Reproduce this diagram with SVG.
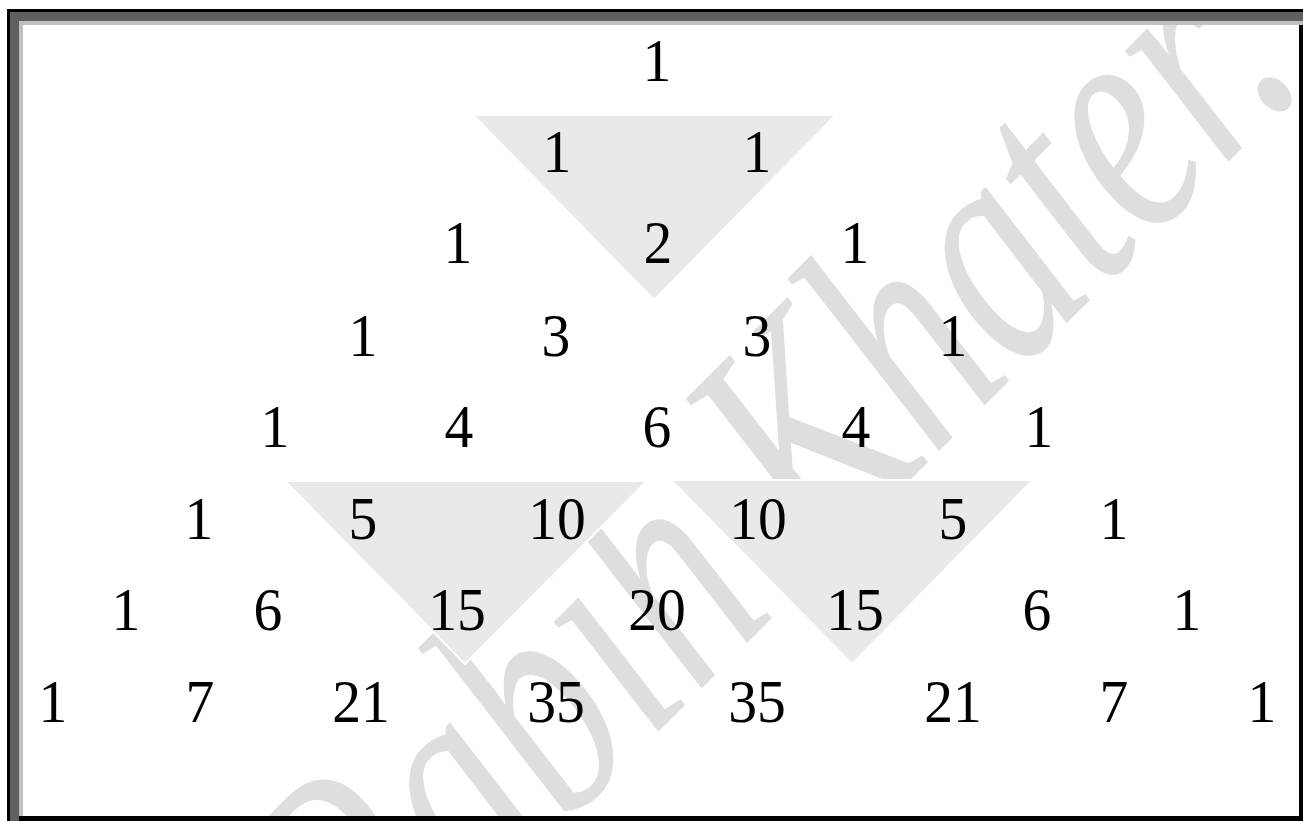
<svg xmlns="http://www.w3.org/2000/svg" width="1303" height="821" viewBox="0 0 1303 821">
<style>
.n{font-family:"Liberation Serif","Times New Roman",serif;font-size:62px;fill:#000;text-anchor:middle}
.tri{fill:#e9e9e9;stroke:#fff;stroke-width:2}
.wm{font-family:"Liberation Serif","Times New Roman",serif;font-style:italic;font-size:100px;fill:#dedede}
</style>
<defs>
<clipPath id="inner"><rect x="23" y="25" width="1276" height="791"/></clipPath>
</defs>
<g id="frame">
<rect x="7" y="9" width="1296" height="812" fill="#000"/>
<rect x="10" y="12" width="1293" height="9" fill="#606060"/>
<rect x="10" y="12" width="9" height="809" fill="#606060"/>
<rect x="19" y="21" width="1284" height="4" fill="#c0c0c0"/>
<rect x="19" y="21" width="4" height="795" fill="#c0c0c0"/>
<rect x="23" y="25" width="1276" height="791" fill="#fff"/>
</g>
<g id="watermark" clip-path="url(#inner)">
<text class="wm" transform="matrix(1.676 -1.676 2.333 2.333 379 1011)">Rabih Khater.</text>
</g>
<g id="triangles">
<polygon id="tri-top" class="tri" points="473,115 836,115 654,300"/>
<polygon id="tri-left" class="tri" points="285,481 647,481 465,664"/>
<polygon id="tri-right" class="tri" points="671,480 1033,480 852,664"/>
</g>
<g id="connectors"></g>
<g id="r1"><text class="n" transform="translate(657,81) scale(0.93,1)">1</text></g>
<g id="r2">
<text class="n" transform="translate(557,172) scale(0.93,1)">1</text>
<text class="n" transform="translate(757,172) scale(0.93,1)">1</text>
</g>
<g id="r3">
<text class="n" transform="translate(458,263) scale(0.93,1)">1</text>
<text class="n" transform="translate(658,263) scale(0.93,1)">2</text>
<text class="n" transform="translate(855,263) scale(0.93,1)">1</text>
</g>
<g id="r4">
<text class="n" transform="translate(363,355.5) scale(0.93,1)">1</text>
<text class="n" transform="translate(556,355.5) scale(0.93,1)">3</text>
<text class="n" transform="translate(757,355.5) scale(0.93,1)">3</text>
<text class="n" transform="translate(953,355.5) scale(0.93,1)">1</text>
</g>
<g id="r5">
<text class="n" transform="translate(275,447) scale(0.93,1)">1</text>
<text class="n" transform="translate(459,447) scale(0.93,1)">4</text>
<text class="n" transform="translate(657,447) scale(0.93,1)">6</text>
<text class="n" transform="translate(856,447) scale(0.93,1)">4</text>
<text class="n" transform="translate(1039,447) scale(0.93,1)">1</text>
</g>
<g id="r6">
<text class="n" transform="translate(199,538.5) scale(0.93,1)">1</text>
<text class="n" transform="translate(363,538.5) scale(0.93,1)">5</text>
<text class="n" transform="translate(557,538.5) scale(0.93,1)">10</text>
<text class="n" transform="translate(758,538.5) scale(0.93,1)">10</text>
<text class="n" transform="translate(953,538.5) scale(0.93,1)">5</text>
<text class="n" transform="translate(1114,538.5) scale(0.93,1)">1</text>
</g>
<g id="r7">
<text class="n" transform="translate(126,630) scale(0.93,1)">1</text>
<text class="n" transform="translate(268,630) scale(0.93,1)">6</text>
<text class="n" transform="translate(457,630) scale(0.93,1)">15</text>
<text class="n" transform="translate(657,630) scale(0.93,1)">20</text>
<text class="n" transform="translate(855,630) scale(0.93,1)">15</text>
<text class="n" transform="translate(1037,630) scale(0.93,1)">6</text>
<text class="n" transform="translate(1187,630) scale(0.93,1)">1</text>
</g>
<g id="r8">
<text class="n" transform="translate(53,722) scale(0.93,1)">1</text>
<text class="n" transform="translate(200,722) scale(0.93,1)">7</text>
<text class="n" transform="translate(361,722) scale(0.93,1)">21</text>
<text class="n" transform="translate(556,722) scale(0.93,1)">35</text>
<text class="n" transform="translate(757,722) scale(0.93,1)">35</text>
<text class="n" transform="translate(953,722) scale(0.93,1)">21</text>
<text class="n" transform="translate(1114,722) scale(0.93,1)">7</text>
<text class="n" transform="translate(1262,722) scale(0.93,1)">1</text>
</g>
</svg>
